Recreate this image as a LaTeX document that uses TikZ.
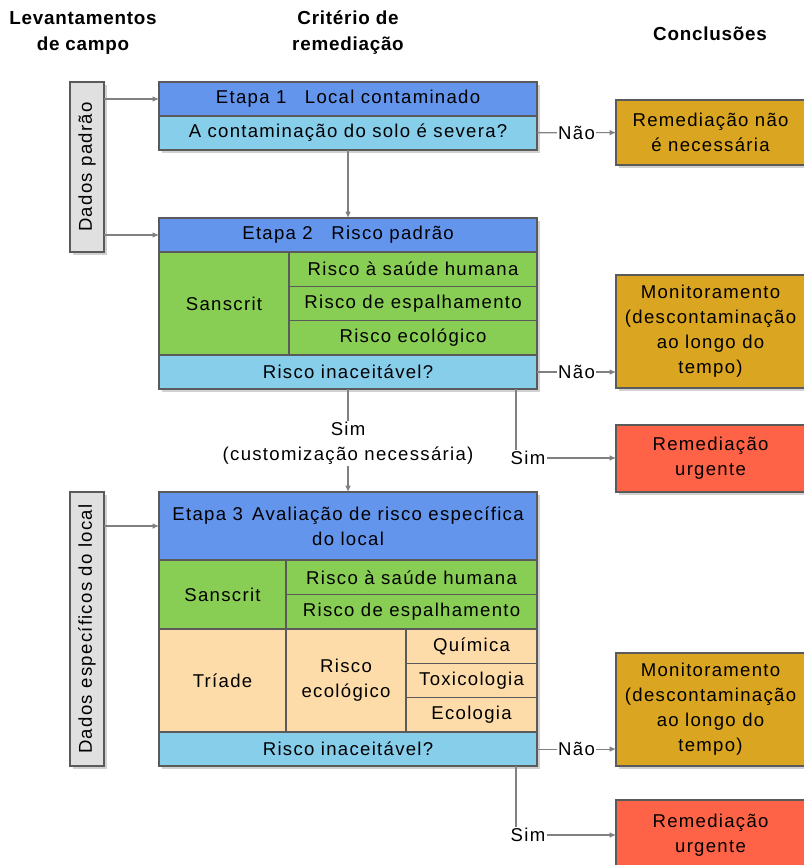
\documentclass[tikz,border=0pt]{standalone}
\usepackage{fontspec}
\setmainfont{Liberation Sans}
\newfontfamily\bodyfont[LetterSpace=7]{Liberation Sans}
\newfontfamily\headfont[LetterSpace=4]{Liberation Sans}
\usetikzlibrary{positioning, arrows.meta, shadows}

\definecolor{stageblue}{RGB}{100,149,237}
\definecolor{askblue}{RGB}{135,206,235}
\definecolor{riskgreen}{RGB}{137,206,84}
\definecolor{triadpeach}{RGB}{253,220,170}
\definecolor{waitgold}{RGB}{218,165,32}
\definecolor{urgentred}{RGB}{255,99,71}
\definecolor{datagray}{RGB}{224,224,224}
\definecolor{cellborder}{RGB}{90,90,90}
\definecolor{linkgray}{RGB}{128,128,128}

\begin{document}
\begin{tikzpicture}[
    x=0.025cm, y=-0.025cm,
    cell/.style={rectangle, draw=cellborder, line width=0.9pt, inner sep=1pt, outer sep=0pt, align=center,
        font=\bodyfont\fontsize{13.2}{17.8}\selectfont,
        drop shadow={shadow xshift=2pt, shadow yshift=-2pt, fill=black!18, opacity=1}},
    stagebox/.style={cell, fill=stageblue, minimum width=9.45cm, anchor=north west},
    askbox/.style={cell, fill=askblue, minimum width=9.45cm, minimum height=0.85cm},
    greencell/.style={cell, fill=riskgreen, anchor=north west},
    peachcell/.style={cell, fill=triadpeach, anchor=north west},
    conclbox/.style={cell, minimum width=4.725cm, anchor=north west},
    databox/.style={cell, fill=datagray, rotate=90, minimum height=0.85cm},
    heading/.style={align=center, font=\headfont\bfseries\fontsize{13.4}{18.5}\selectfont},
    lbl/.style={fill=white, inner sep=1pt, align=center, font=\bodyfont\fontsize{13.2}{17.8}\selectfont},
    line/.style={draw=linkgray, line width=0.8pt},
    arr/.style={line, -{Latex[length=4.5pt, width=4pt]}}
]
    \useasboundingbox (0,0) rectangle (803,865);

    % Column headings
    \node [heading] (hlev) at (83,33) {Levantamentos\\de campo};
    \node [heading] (hcrit) at (348,33) {Critério de\\remediação};
    \node [heading] (hconc) at (710,34) {Conclusões};

    % Field data
    \node [databox, minimum width=4.25cm] (dpad) at (87,167) {Dados padrão};
    \node [databox, minimum width=6.85cm] (dloc) at (87,629) {Dados específicos do local};

    % Stage 1
    \node [stagebox, minimum height=0.85cm] (et1) at (159,82) {Etapa 1\quad Local contaminado};
    \node [askbox, below=0pt of et1] (q1) {A contaminação do solo é severa?};

    % Stage 2
    \node [stagebox, minimum height=0.85cm] (et2) at (159,218) {Etapa 2\quad Risco padrão};
    \node [greencell, minimum width=3.25cm, minimum height=2.575cm] (san2) at (et2.south west) {Sanscrit};
    \node [greencell, minimum width=6.2cm, minimum height=0.858cm] (hum2) at (san2.north east) {Risco à saúde humana};
    \node [greencell, minimum width=6.2cm, minimum height=0.858cm] (esp2) at (hum2.south west) {Risco de espalhamento};
    \node [greencell, minimum width=6.2cm, minimum height=0.858cm] (eco2) at (esp2.south west) {Risco ecológico};
    \node [askbox, anchor=north west] (q2) at (san2.south west) {Risco inaceitável?};

    % Stage 3
    \node [stagebox, minimum height=1.7cm] (et3) at (159,492) {Etapa 3\enspace Avaliação de risco específica\\do local};
    \node [greencell, minimum width=3.175cm, minimum height=1.725cm] (san3) at (et3.south west) {Sanscrit};
    \node [greencell, minimum width=6.275cm, minimum height=0.8625cm] (hum3) at (san3.north east) {Risco à saúde humana};
    \node [greencell, minimum width=6.275cm, minimum height=0.8625cm] (esp3) at (hum3.south west) {Risco de espalhamento};
    \node [peachcell, minimum width=3.175cm, minimum height=2.575cm] (tri3) at (san3.south west) {Tríade};
    \node [peachcell, minimum width=3cm, minimum height=2.575cm] (eco3) at (tri3.north east) {Risco\\ecológico};
    \node [peachcell, minimum width=3.275cm, minimum height=0.858cm] (qui3) at (eco3.north east) {Química};
    \node [peachcell, minimum width=3.275cm, minimum height=0.858cm] (tox3) at (qui3.south west) {Toxicologia};
    \node [peachcell, minimum width=3.275cm, minimum height=0.858cm] (ecl3) at (tox3.south west) {Ecologia};
    \node [askbox, anchor=north west] (q3) at (tri3.south west) {Risco inaceitável?};

    % Conclusions
    \node [conclbox, fill=waitgold, minimum height=1.625cm] (c1) at (616,100) {Remediação não\\é necessária};
    \node [conclbox, fill=waitgold, minimum height=2.825cm] (c2) at (616,275) {Monitoramento\\(descontaminação\\ao longo do\\tempo)};
    \node [conclbox, fill=urgentred, minimum height=1.675cm] (c3) at (616,425) {Remediação\\urgente};
    \node [conclbox, fill=waitgold, minimum height=2.825cm] (c4) at (616,653) {Monitoramento\\(descontaminação\\ao longo do\\tempo)};
    \node [conclbox, fill=urgentred, minimum height=1.75cm] (c5) at (616,800) {Remediação\\urgente};

    % Data feeds
    \draw [arr] (et1.west -| dpad.south) -- (et1.west);
    \draw [arr] (et2.west -| dpad.south) -- (et2.west);
    \draw [arr] (et3.west -| dloc.south) -- (et3.west);

    % Stage 1 decisions
    \draw [arr] (q1) -- (et2);
    \draw [arr] (q1) -- node[lbl] {Não} (c1);

    % Stage 2 decisions
    \draw [arr] (q2.east) -- node[lbl] {Não} (q2.east -| c2.west);
    \draw [arr] (q2) -- node[lbl, pos=0.53] {Sim\\(customização necessária)} (et3);
    \coordinate (br2) at (516,458);
    \node [lbl] (sim2) at (528,458) {Sim};
    \draw [line] (q2.south -| br2) -- (sim2.north -| br2);
    \draw [arr] (sim2.east) -- (sim2 -| c3.west);

    % Stage 3 decisions
    \draw [arr] (q3.east) -- node[lbl] {Não} (q3.east -| c4.west);
    \coordinate (br3) at (516,835);
    \node [lbl] (sim3) at (528,835) {Sim};
    \draw [line] (q3.south -| br3) -- (sim3.north -| br3);
    \draw [arr] (sim3.east) -- (sim3 -| c5.west);

\end{tikzpicture}
\end{document}
